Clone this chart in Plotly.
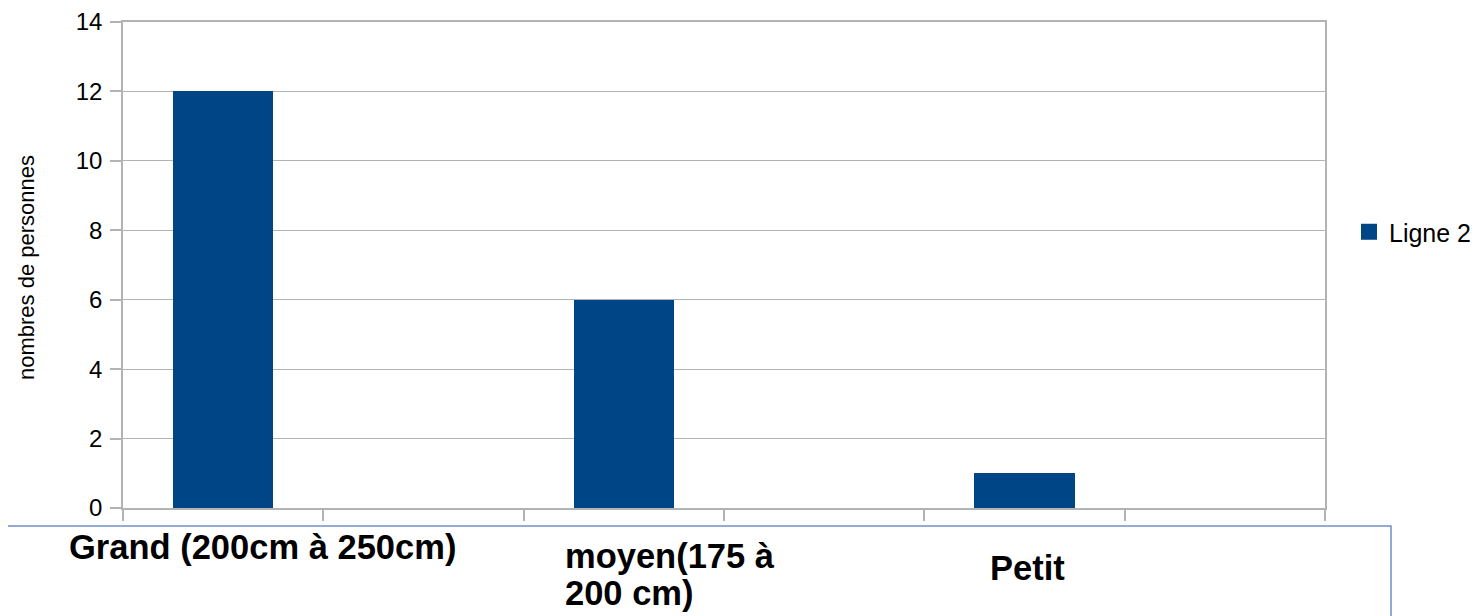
import plotly.graph_objects as go

# -------------------------------------------------------
# Data
# -------------------------------------------------------
categories = ["Grand (200cm à 250cm)", "moyen(175 à<br>200 cm)", "Petit"]
values = [12, 6, 1]
series_name = "Ligne 2"
y_title = "nombres de personnes"
y_ticks = [0, 2, 4, 6, 8, 10, 12, 14]

# -------------------------------------------------------
# Geometry helpers
# page pixels (as seen in the browser) -> paper coords.
# the page body adds an 8px margin around the figure
# -------------------------------------------------------
OFF = 8
W, H = 1478 - OFF, 616 - OFF
PL, PR, PT, PB = 123 - OFF, 1325 - OFF, 22 - OFF, 508 - OFF


def px_x(px):
    return (px - OFF - PL) / (PR - PL)


def px_y(py):
    return (PB - (py - OFF)) / (PB - PT)


BAR_COLOR = "#004586"
GRID = "#b3b3b3"
FONT = "Liberation Sans, Arial, sans-serif"

fig = go.Figure()

fig.add_trace(
    go.Bar(
        x=list(range(len(categories))),
        y=values,
        name=series_name,
        marker=dict(color=BAR_COLOR, line=dict(width=0)),
        width=0.25,
        offset=-0.375,
        showlegend=False,
    )
)

# legend entry (bigger square than the default bar swatch)
fig.add_trace(
    go.Scatter(
        x=[None],
        y=[None],
        mode="markers",
        name=series_name,
        marker=dict(symbol="square", size=16, color=BAR_COLOR),
        showlegend=True,
    )
)

# -------------------------------------------------------
# Category labels (placed loosely, like the original text boxes)
# -------------------------------------------------------
label_left_px = [67, 563, 988]
label_first_baseline_px = [559, 568, 580]
LABEL_SIZE = 34.5
LINE_STEP = 37
for cat, lx, base in zip(categories, label_left_px, label_first_baseline_px):
    for i, line in enumerate(cat.split("<br>")):
        b = base + i * LINE_STEP
        fig.add_annotation(
            x=px_x(lx),
            y=px_y(b - 12),
            xref="paper",
            yref="paper",
            xanchor="left",
            yanchor="middle",
            text=f"<b>{line}</b>",
            showarrow=False,
            font=dict(family=FONT, size=LABEL_SIZE, color="#000000"),
        )

# y axis title
fig.add_annotation(
    x=px_x(26),
    y=px_y(268),
    xref="paper",
    yref="paper",
    xanchor="center",
    yanchor="middle",
    text=y_title,
    textangle=-90,
    showarrow=False,
    font=dict(family=FONT, size=22, color="#000000"),
)

# blue text-box border below the axis
fig.add_shape(
    type="rect",
    xref="paper",
    yref="paper",
    x0=px_x(-10),
    x1=px_x(1391),
    y0=px_y(526),
    y1=px_y(700),
    line=dict(color="#6f90c4", width=1.5),
    fillcolor="rgba(0,0,0,0)",
)

# -------------------------------------------------------
# Layout
# -------------------------------------------------------
fig.update_layout(
    width=W,
    height=H,
    margin=dict(l=PL, r=W - PR, t=PT, b=H - PB, autoexpand=False),
    paper_bgcolor="white",
    plot_bgcolor="white",
    font=dict(family=FONT, size=24, color="#000000"),
    showlegend=True,
    legend=dict(
        x=px_x(1349),
        y=px_y(232),
        xanchor="left",
        yanchor="middle",
        font=dict(family=FONT, size=25, color="#000000"),
        bgcolor="rgba(0,0,0,0)",
    ),
    bargap=0,
)

fig.update_xaxes(
    range=[-0.5, len(categories) - 0.5],
    tickmode="array",
    tickvals=[i * 0.5 - 0.5 for i in range(2 * len(categories) + 1)],
    ticktext=[""] * (2 * len(categories) + 1),
    ticks="outside",
    ticklen=11,
    tickcolor=GRID,
    tickwidth=1.5,
    showgrid=False,
    zeroline=False,
    showline=True,
    linecolor=GRID,
    linewidth=1.5,
    mirror=True,
)

fig.update_yaxes(
    range=[0, 14],
    tickmode="array",
    tickvals=y_ticks,
    ticks="outside",
    ticklen=11,
    tickcolor=GRID,
    tickwidth=1.5,
    ticklabelstandoff=3,
    ticklabeloverflow="allow",
    showgrid=True,
    gridcolor=GRID,
    gridwidth=1,
    zeroline=False,
    showline=True,
    linecolor=GRID,
    linewidth=1.5,
    mirror=True,
    tickfont=dict(family=FONT, size=24, color="#000000"),
)

fig.write_html("out.html")
